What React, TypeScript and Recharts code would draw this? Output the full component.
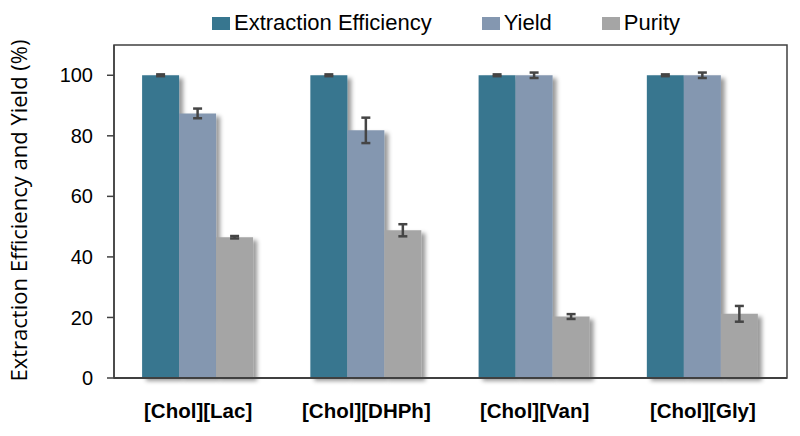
import { BarChart, Bar, XAxis, YAxis, ErrorBar, Rectangle, ReferenceArea } from 'recharts'

const categories = ['[Chol][Lac]', '[Chol][DHPh]', '[Chol][Van]', '[Chol][Gly]']
const extractionEfficiency = [100, 100, 100, 100]
const extractionEfficiencyErr = [0.3, 0.3, 0.3, 0.3]
const yieldValues = [87.4, 81.8, 100, 100]
const yieldErr = [1.6, 4.2, 0.9, 0.9]
const purity = [46.5, 48.8, 20.3, 21.2]
const purityErr = [0.4, 2.0, 0.8, 2.6]
const yTicks = [0, 20, 40, 60, 80, 100]

const seriesNames = ['Extraction Efficiency', 'Yield', 'Purity']
const seriesColors = ['#37768f', '#8497b0', '#a5a5a5']

const data = categories.map((name, i) => ({
  name,
  ee: extractionEfficiency[i],
  eeErr: extractionEfficiencyErr[i],
  yield: yieldValues[i],
  yieldErr: yieldErr[i],
  purity: purity[i],
  purityErr: purityErr[i],
}))

const font = '"Liberation Sans", Arial, sans-serif'
const axisStroke = '#404040'
const errColor = '#454545'

// bars get a soft drop shadow like the original
const ShadowBar = (props: any) => (
  <g filter="url(#barShadow)">
    <Rectangle {...props} />
  </g>
)

export default function App() {
  return (
    <div style={{ position: 'relative', width: 800, height: 436, background: '#fff' }}>
      <style>{'body{margin:0}'}</style>
      <svg width={0} height={0} style={{ position: 'absolute' }}>
        <defs>
          <filter id="barShadow" x="-20%" y="-10%" width="150%" height="130%">
            <feDropShadow dx={4} dy={3} stdDeviation={2.2} floodColor="#000" floodOpacity={0.4} />
          </filter>
        </defs>
      </svg>

      {/* legend */}
      <div
        style={{
          position: 'absolute',
          left: 212,
          top: 10,
          display: 'flex',
          gap: 50,
          fontFamily: font,
          fontSize: 22,
          color: '#000',
          alignItems: 'center',
        }}
      >
        {seriesNames.map((n, i) => (
          <div key={n} style={{ display: 'flex', alignItems: 'center', gap: 4 }}>
            <span style={{ display: 'inline-block', width: 18, height: 13, background: seriesColors[i] }} />
            <span>{n}</span>
          </div>
        ))}
      </div>

      <BarChart
        width={800}
        height={436}
        data={data}
        margin={{ top: 45, right: 13, left: 0, bottom: 0 }}
        barGap={0}
        barCategoryGap="16.7%"
      >
        {/* plot frame */}
        <ReferenceArea y1={0} y2={110} fill="none" stroke={axisStroke} strokeWidth={1.5} strokeOpacity={1} />
        <XAxis
          dataKey="name"
          height={58}
          tickLine={false}
          tickSize={0}
          tickMargin={25}
          axisLine={{ stroke: axisStroke, strokeWidth: 2 }}
          tick={{ fontSize: 20.5, fontWeight: 'bold', fill: '#000', fontFamily: font }}
        />
        <YAxis
          width={114}
          domain={[0, 110]}
          ticks={yTicks}
          tickSize={7}
          tickMargin={14}
          axisLine={{ stroke: axisStroke, strokeWidth: 1.5 }}
          tickLine={{ stroke: axisStroke, strokeWidth: 1.5 }}
          tick={{ fontSize: 20, fill: '#000', fontFamily: font }}
          label={{
            value: 'Extraction Efficiency and Yield (%)',
            angle: -90,
            position: 'center',
            dx: -38,
            dy: -1,
            style: { fontSize: 22, fill: '#000', fontFamily: '"Open Sans", sans-serif', textAnchor: 'middle' },
          }}
        />
        <Bar dataKey="ee" fill={seriesColors[0]} shape={ShadowBar} isAnimationActive={false}>
          <ErrorBar dataKey="eeErr" width={4.5} stroke={errColor} strokeWidth={2.5} />
        </Bar>
        <Bar dataKey="yield" fill={seriesColors[1]} shape={ShadowBar} isAnimationActive={false}>
          <ErrorBar dataKey="yieldErr" width={4.5} stroke={errColor} strokeWidth={2.5} />
        </Bar>
        <Bar dataKey="purity" fill={seriesColors[2]} shape={ShadowBar} isAnimationActive={false}>
          <ErrorBar dataKey="purityErr" width={4.5} stroke={errColor} strokeWidth={2.5} />
        </Bar>
      </BarChart>
    </div>
  )
}
